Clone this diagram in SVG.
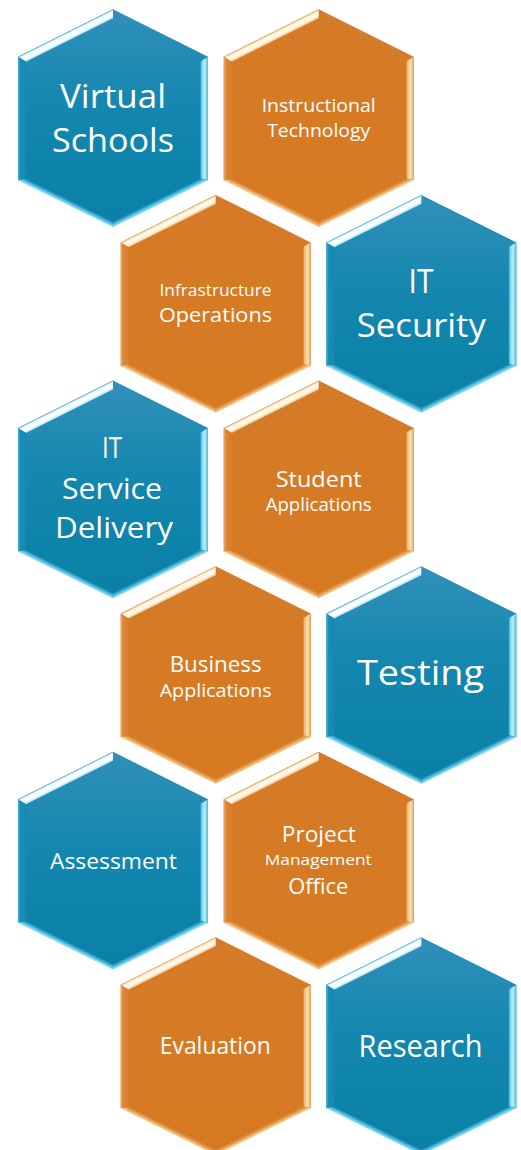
<svg xmlns="http://www.w3.org/2000/svg" xmlns:xlink="http://www.w3.org/1999/xlink" width="521" height="1150" viewBox="0 0 521 1150">
<style>
text{font-family:"Open Sans","Liberation Sans",sans-serif;fill:#ffffff;text-anchor:middle}
</style>
<defs>
<linearGradient id="bBase" gradientUnits="userSpaceOnUse" x1="0" y1="0" x2="0" y2="217">
<stop offset="0" stop-color="#3190b9"/><stop offset="0.45" stop-color="#1387af"/><stop offset="1" stop-color="#0a80a6"/></linearGradient>
<linearGradient id="bTL" gradientUnits="userSpaceOnUse" x1="-47.5" y1="23.7" x2="-43.9" y2="30.9">
<stop offset="0" stop-color="#5fb6d4"/><stop offset="0.2" stop-color="#f0fcff"/><stop offset="0.65" stop-color="#ffffff"/><stop offset="1" stop-color="#a9e2f3"/></linearGradient>
<linearGradient id="bR" gradientUnits="userSpaceOnUse" x1="87" y1="0" x2="95" y2="0">
<stop offset="0" stop-color="#1a8ab2"/><stop offset="0.25" stop-color="#7fd7f2"/><stop offset="0.6" stop-color="#b5f0ff"/><stop offset="1" stop-color="#48b8dc"/></linearGradient>
<linearGradient id="bBR" gradientUnits="userSpaceOnUse" x1="47.5" y1="194.05" x2="45.3" y2="189.6">
<stop offset="0" stop-color="#9ee8fb"/><stop offset="0.4" stop-color="#4fc0e4"/><stop offset="1" stop-color="#0f7fa6"/></linearGradient>
<linearGradient id="bBL" gradientUnits="userSpaceOnUse" x1="-47.5" y1="194.05" x2="-45.3" y2="189.6">
<stop offset="0" stop-color="#9ee8fb"/><stop offset="0.4" stop-color="#4fc0e4"/><stop offset="1" stop-color="#0f7fa6"/></linearGradient>
<linearGradient id="bL" gradientUnits="userSpaceOnUse" x1="-95" y1="0" x2="-87" y2="0">
<stop offset="0" stop-color="#49b0d4"/><stop offset="0.3" stop-color="#1a8db5"/><stop offset="1" stop-color="#1689b0"/></linearGradient>

<linearGradient id="oBase" gradientUnits="userSpaceOnUse" x1="0" y1="0" x2="0" y2="217">
<stop offset="0" stop-color="#d57a27"/><stop offset="1" stop-color="#d77a22"/></linearGradient>
<linearGradient id="oTL" gradientUnits="userSpaceOnUse" x1="-47.5" y1="23.7" x2="-43.9" y2="30.9">
<stop offset="0" stop-color="#e8a55a"/><stop offset="0.2" stop-color="#fff4dc"/><stop offset="0.65" stop-color="#fffaf0"/><stop offset="1" stop-color="#f3c27f"/></linearGradient>
<linearGradient id="oR" gradientUnits="userSpaceOnUse" x1="87" y1="0" x2="95" y2="0">
<stop offset="0" stop-color="#d27522"/><stop offset="0.25" stop-color="#f6c07a"/><stop offset="0.6" stop-color="#fde0b0"/><stop offset="1" stop-color="#e9a55a"/></linearGradient>
<linearGradient id="oBR" gradientUnits="userSpaceOnUse" x1="47.5" y1="194.05" x2="45.3" y2="189.6">
<stop offset="0" stop-color="#fbd8a0"/><stop offset="0.4" stop-color="#eaa65c"/><stop offset="1" stop-color="#d27822"/></linearGradient>
<linearGradient id="oBL" gradientUnits="userSpaceOnUse" x1="-47.5" y1="194.05" x2="-45.3" y2="189.6">
<stop offset="0" stop-color="#fbd8a0"/><stop offset="0.4" stop-color="#eaa65c"/><stop offset="1" stop-color="#d27822"/></linearGradient>
<linearGradient id="oL" gradientUnits="userSpaceOnUse" x1="-95" y1="0" x2="-87" y2="0">
<stop offset="0" stop-color="#eeb070"/><stop offset="0.3" stop-color="#dc8638"/><stop offset="1" stop-color="#d87e2c"/></linearGradient>

<g id="hexB">
<polygon points="0,0 95,47.4 95,170.7 0,217.4 -95,170.7 -95,47.4" fill="url(#bBase)"/>
<polygon points="-95,47.4 0,0 0,8.94 -87,52.35" fill="url(#bTL)"/>
<polygon points="95,47.4 95,170.7 87,169.1 87,52.35" fill="url(#bR)"/>
<polygon points="95,170.7 0,217.4 0,211.8 87,169.1" fill="url(#bBR)"/>
<polygon points="0,217.4 -95,170.7 -87,169.1 0,211.8" fill="url(#bBL)"/>
<polygon points="-95,170.7 -95,47.4 -87,52.35 -87,169.1" fill="url(#bL)"/>
</g>
<g id="hexO">
<polygon points="0,0 95,47.4 95,170.7 0,217.4 -95,170.7 -95,47.4" fill="url(#oBase)"/>
<polygon points="-95,47.4 0,0 0,8.94 -87,52.35" fill="url(#oTL)"/>
<polygon points="95,47.4 95,170.7 87,169.1 87,52.35" fill="url(#oR)"/>
<polygon points="95,170.7 0,217.4 0,211.8 87,169.1" fill="url(#oBR)"/>
<polygon points="0,217.4 -95,170.7 -87,169.1 0,211.8" fill="url(#oBL)"/>
<polygon points="-95,170.7 -95,47.4 -87,52.35 -87,169.1" fill="url(#oL)"/>
</g>
</defs>

<rect width="521" height="1150" fill="#ffffff"/>

<g id="connectors"></g>

<g id="virtual-schools">
<use xlink:href="#hexB" transform="translate(113,9.3)"/>
<text x="113" y="108" font-size="32" textLength="106" lengthAdjust="spacingAndGlyphs">Virtual</text>
<text x="113" y="151.7" font-size="32" textLength="122" lengthAdjust="spacingAndGlyphs">Schools</text>
</g>
<g id="instructional-technology">
<use xlink:href="#hexO" transform="translate(318.7,9.3)"/>
<text x="318.7" y="111.7" font-size="18.5" textLength="114" lengthAdjust="spacingAndGlyphs">Instructional</text>
<text x="318.7" y="136.7" font-size="18.5" textLength="103" lengthAdjust="spacingAndGlyphs">Technology</text>
</g>
<g id="infrastructure-operations">
<use xlink:href="#hexO" transform="translate(215.7,195)"/>
<text x="215.5" y="296" font-size="16.5" textLength="112" lengthAdjust="spacingAndGlyphs">Infrastructure</text>
<text x="215.5" y="321.7" font-size="20" textLength="113" lengthAdjust="spacingAndGlyphs">Operations</text>
</g>
<g id="it-security">
<use xlink:href="#hexB" transform="translate(421.3,195)"/>
<text x="421" y="292.7" font-size="32" textLength="25" lengthAdjust="spacingAndGlyphs">IT</text>
<text x="421.3" y="336.7" font-size="32" textLength="129" lengthAdjust="spacingAndGlyphs">Security</text>
</g>
<g id="it-service-delivery">
<use xlink:href="#hexB" transform="translate(113,380.6)"/>
<text x="112" y="457.7" font-size="30" textLength="20" lengthAdjust="spacingAndGlyphs">IT</text>
<text x="112" y="499" font-size="30" textLength="100" lengthAdjust="spacingAndGlyphs">Service</text>
<text x="114" y="538.3" font-size="30" textLength="118" lengthAdjust="spacingAndGlyphs">Delivery</text>
</g>
<g id="student-applications">
<use xlink:href="#hexO" transform="translate(318.7,380.6)"/>
<text x="318.7" y="487" font-size="21" textLength="86" lengthAdjust="spacingAndGlyphs">Student</text>
<text x="318.7" y="511" font-size="18" textLength="106" lengthAdjust="spacingAndGlyphs">Applications</text>
</g>
<g id="business-applications">
<use xlink:href="#hexO" transform="translate(215.7,566.2)"/>
<text x="215.7" y="672" font-size="21" textLength="92" lengthAdjust="spacingAndGlyphs">Business</text>
<text x="215.7" y="697" font-size="19" textLength="112" lengthAdjust="spacingAndGlyphs">Applications</text>
</g>
<g id="testing">
<use xlink:href="#hexB" transform="translate(421.3,566.2)"/>
<text x="420.5" y="685" font-size="34" textLength="127" lengthAdjust="spacingAndGlyphs">Testing</text>
</g>
<g id="assessment">
<use xlink:href="#hexB" transform="translate(113,751.8)"/>
<text x="113.5" y="869" font-size="22" textLength="127" lengthAdjust="spacingAndGlyphs">Assessment</text>
</g>
<g id="project-management-office">
<use xlink:href="#hexO" transform="translate(318.7,751.8)"/>
<text x="318.8" y="841.7" font-size="21" textLength="74" lengthAdjust="spacingAndGlyphs">Project</text>
<text x="318.3" y="865" font-size="15" textLength="107" lengthAdjust="spacingAndGlyphs">Management</text>
<text x="318.3" y="894" font-size="22" textLength="60" lengthAdjust="spacingAndGlyphs">Office</text>
</g>
<g id="evaluation">
<use xlink:href="#hexO" transform="translate(215.7,937.3)"/>
<text x="215.3" y="1054.3" font-size="24" textLength="111" lengthAdjust="spacingAndGlyphs">Evaluation</text>
</g>
<g id="research">
<use xlink:href="#hexB" transform="translate(421.3,937.3)"/>
<text x="420.5" y="1056.7" font-size="30.5" textLength="124" lengthAdjust="spacingAndGlyphs">Research</text>
</g>
</svg>
